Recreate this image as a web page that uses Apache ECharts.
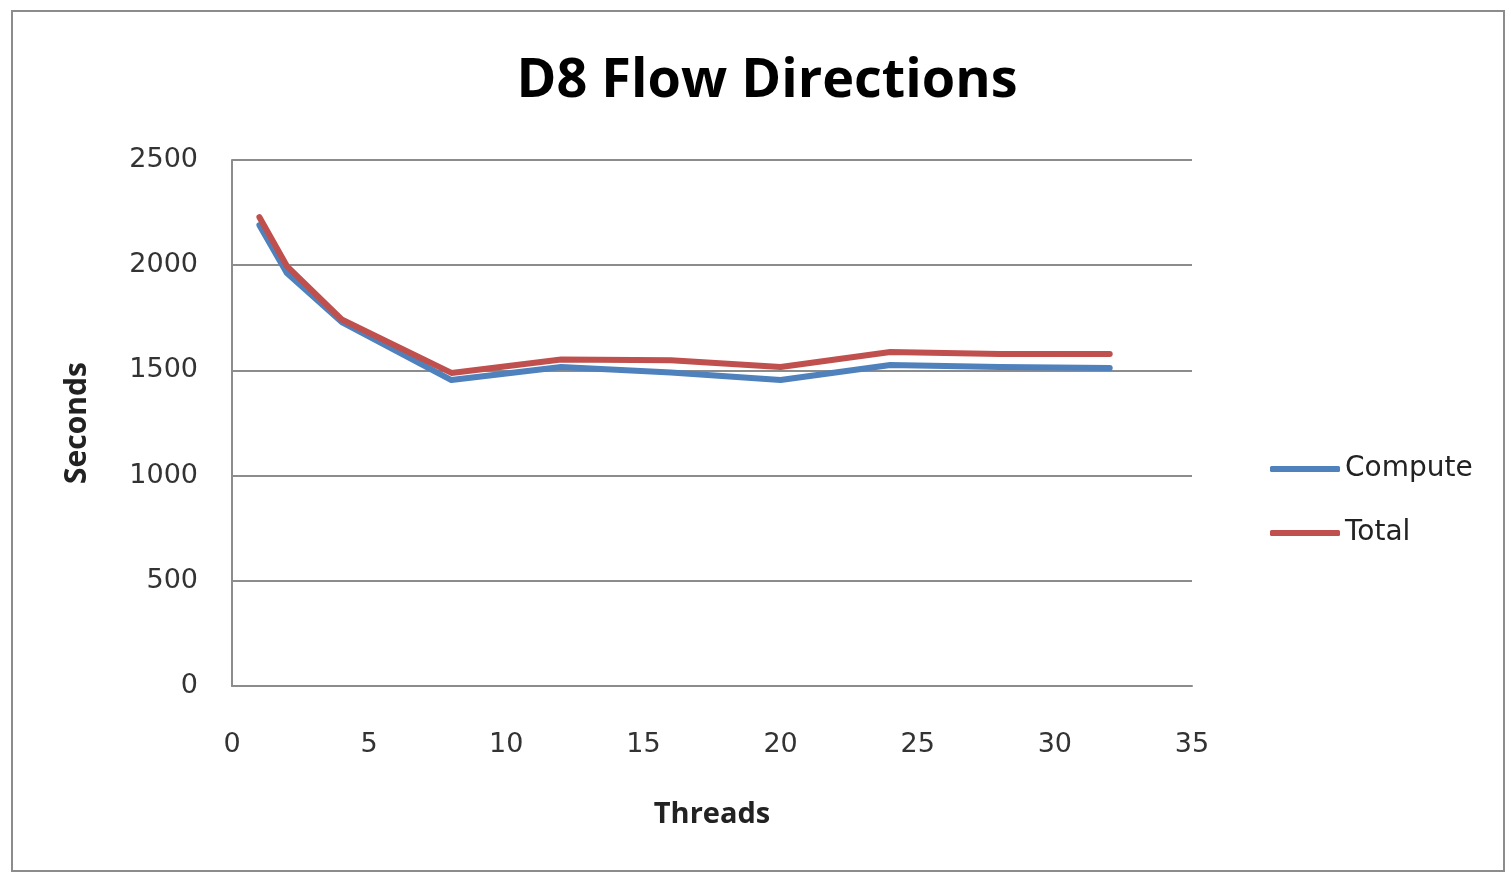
<!DOCTYPE html>
<html>
<head>
<meta charset="utf-8">
<script src="https://cdn.jsdelivr.net/npm/echarts@6/dist/echarts.min.js"></script>
<style>
  html, body { margin: 0; padding: 0; background: #ffffff; }
  #frame { position: absolute; left: 11px; top: 10px; width: 1494px; height: 862px; border: 2px solid #8c8c8c; box-sizing: border-box; }
  #chart { position: absolute; left: 0; top: 0; width: 1511px; height: 876px; }
</style>
</head>
<body>
<div id="frame"></div>
<div id="chart"></div>
<script>
// Thread counts tested and the measured run times (seconds)
const threads = [1, 2, 4, 8, 12, 16, 20, 24, 28, 32];
const computeSeconds = [2190, 1963, 1730, 1454, 1516, 1490, 1454, 1526, 1516, 1511];
const totalSeconds = [2228, 1996, 1742, 1488, 1552, 1548, 1516, 1587, 1578, 1578];
const xTicks = [0, 5, 10, 15, 20, 25, 30, 35];
const yTicks = [0, 500, 1000, 1500, 2000, 2500];

const labelFont = 'DejaVu Sans';
const chart = echarts.init(document.getElementById('chart'), null, { renderer: 'canvas' });

const pairs = (ys) => threads.map((t, i) => [t, ys[i]]);

chart.setOption({
  animation: false,
  backgroundColor: 'transparent',
  title: {
    text: 'D8 Flow Directions',
    left: 762, top: 50, textAlign: 'center',
    textStyle: { fontFamily: 'Open Sans', fontWeight: 'bold', fontSize: 54, color: '#000000' }
  },
  grid: { left: 232, right: 319, top: 160, bottom: 190, containLabel: false },
  legend: {
    orient: 'vertical', left: 1265, top: 450, itemGap: 36,
    itemWidth: 70, itemHeight: 6,
    icon: 'roundRect',
    textStyle: { fontFamily: labelFont, fontSize: 28, color: '#222222', padding: [0, 0, 0, 0] },
    data: ['Compute', 'Total']
  },
  xAxis: {
    type: 'value', min: xTicks[0], max: xTicks[xTicks.length - 1], interval: 5,
    name: 'Threads', nameLocation: 'middle', nameGap: 114,
    nameTextStyle: { fontFamily: 'Open Sans', fontWeight: 'bold', fontSize: 29, color: '#222222' },
    axisLine: { show: true, lineStyle: { color: '#8c8c8c', width: 2 } },
    axisTick: { show: false },
    axisLabel: { fontFamily: labelFont, fontSize: 27, color: '#333333', margin: 45, formatter: (v) => String(v) },
    splitLine: { show: false }
  },
  yAxis: {
    type: 'value', min: yTicks[0], max: yTicks[yTicks.length - 1], interval: 500,
    name: 'Seconds', nameLocation: 'middle', nameGap: 140, nameRotate: 90,
    nameTextStyle: { fontFamily: 'Open Sans', fontWeight: 'bold', fontSize: 30, color: '#222222' },
    axisLine: { show: true, lineStyle: { color: '#8c8c8c', width: 2 } },
    axisTick: { show: false },
    axisLabel: { fontFamily: labelFont, fontSize: 27, color: '#333333', margin: 34, formatter: (v) => String(v) },
    splitLine: { show: true, lineStyle: { color: '#8c8c8c', width: 2 } }
  },
  series: [
    {
      name: 'Compute', type: 'line', data: pairs(computeSeconds),
      showSymbol: false, symbol: 'none',
      lineStyle: { color: '#4f81bd', width: 6, cap: 'round', join: 'round' }, itemStyle: { color: '#4f81bd' },
      z: 2
    },
    {
      name: 'Total', type: 'line', data: pairs(totalSeconds),
      showSymbol: false, symbol: 'none',
      lineStyle: { color: '#c0504d', width: 6, cap: 'round', join: 'round' }, itemStyle: { color: '#c0504d' },
      z: 3
    }
  ]
});
</script>
</body>
</html>
